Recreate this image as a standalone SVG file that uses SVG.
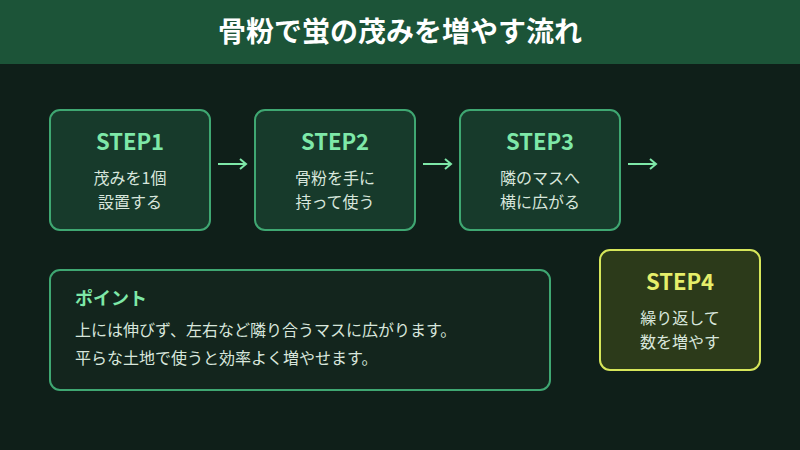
<svg xmlns="http://www.w3.org/2000/svg" width="800" height="450" viewBox="0 0 800 450">
<style>
text{font-family:"Noto Sans CJK JP","Noto Sans",sans-serif;text-anchor:middle}
.box{fill:#173a2b;stroke:#3fa772;stroke-width:2}
.st{fill:#7ee8a8;font-size:22px;font-weight:bold}
.tx{fill:#d8e6dc;font-size:16px}
.arr{stroke:#7ee8a8;stroke-width:2;fill:none}
</style>
<rect width="800" height="450" fill="#0f1f19"/>
<rect width="800" height="64" fill="#1c5438"/>
<text x="400" y="42" fill="#fff" font-size="28" font-weight="bold">骨粉で蛍の茂みを増やす流れ</text>
<g id="step1"><rect class="box" x="50" y="110" width="160" height="120" rx="10"/><text class="st" x="130" y="150">STEP1</text><text class="tx" x="130" y="184">茂みを1個</text><text class="tx" x="130" y="208">設置する</text></g>
<g id="step2"><rect class="box" x="255" y="110" width="160" height="120" rx="10"/><text class="st" x="335" y="150">STEP2</text><text class="tx" x="335" y="184">骨粉を手に</text><text class="tx" x="335" y="208">持って使う</text></g>
<g id="step3"><rect class="box" x="460" y="110" width="160" height="120" rx="10"/><text class="st" x="540" y="150">STEP3</text><text class="tx" x="540" y="184">隣のマスへ</text><text class="tx" x="540" y="208">横に広がる</text></g>
<g id="step4"><rect x="600" y="250" width="160" height="120" rx="10" fill="#2c3a1a" stroke="#d6e65a" stroke-width="2"/><text class="st" x="680" y="290" fill="#e6ee6a" style="fill:#e6ee6a">STEP4</text><text class="tx" x="680" y="324">繰り返して</text><text class="tx" x="680" y="348">数を増やす</text></g>
<g id="point"><rect x="50" y="270" width="500" height="120" rx="10" fill="#13251d" stroke="#3fa772" stroke-width="2"/><text x="75" y="305" style="text-anchor:start;fill:#7ee8a8;font-size:18px;font-weight:bold">ポイント</text><text class="tx" x="75" y="336" style="text-anchor:start">上には伸びず、左右など隣り合うマスに広がります。</text><text class="tx" x="75" y="364" style="text-anchor:start">平らな土地で使うと効率よく増やせます。</text></g>
<g id="connectors">
<path class="arr" d="M218 164H246M240 159L246 164L240 169"/>
<path class="arr" d="M423 164H451M445 159L451 164L445 169"/>
<path class="arr" d="M628 164H656M650 159L656 164L650 169"/>
</g>
</svg>
